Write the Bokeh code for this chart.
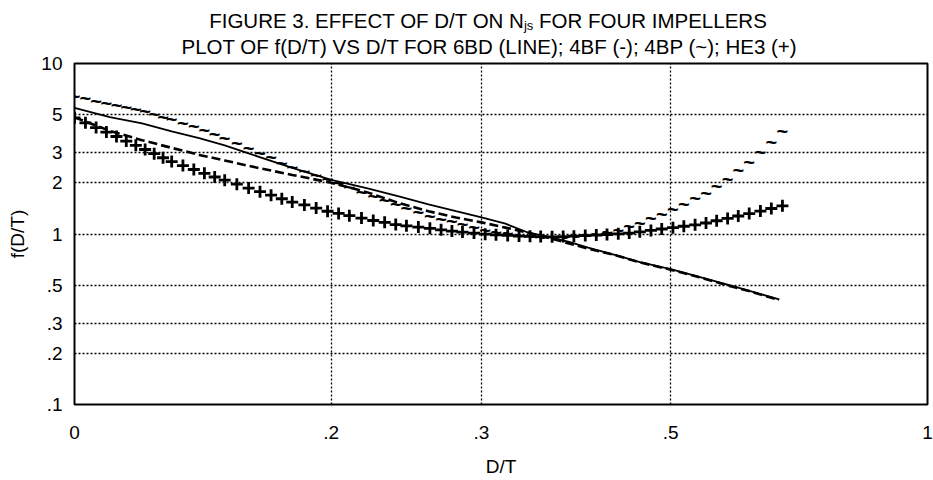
from bokeh.plotting import figure
from bokeh.models import FixedTicker, Div
from bokeh.layouts import column
from bokeh.core.properties import value
from bokeh.embed import file_html
from bokeh.resources import INLINE

# ---- data ----
# D/T values for the two drawn lines (6BD solid, 4BF dashed)
dt_line = [0.10, 0.11, 0.12, 0.13, 0.14, 0.15, 0.16, 0.18, 0.20, 0.22, 0.24, 0.26, 0.28,
           0.30, 0.32, 0.34, 0.36, 0.38, 0.40, 0.43, 0.46, 0.50, 0.54, 0.58, 0.62, 0.67]
f_6bd = [5.49, 4.85, 4.46, 4.00, 3.65, 3.31, 2.97, 2.44, 2.08, 1.86, 1.66, 1.49, 1.36,
         1.25, 1.15, 1.02, 0.963, 0.898, 0.832, 0.754, 0.683, 0.623, 0.560, 0.508, 0.462, 0.413]
f_4bf = [4.83, 4.03, 3.55, 3.20, 2.91, 2.70, 2.51, 2.22, 2.00, 1.76, 1.52, 1.36, 1.25,
         1.17, 1.09, 1.02, 0.948, 0.880, 0.821, 0.752, 0.682, 0.617, 0.558, 0.503, 0.460, 0.410]

# D/T values for the two marker series (4BP "~", HE3 "+")
dt_mark = [0.100, 0.103, 0.106, 0.109, 0.112, 0.115, 0.118, 0.121, 0.124, 0.127, 0.130,
           0.134, 0.138, 0.142, 0.146, 0.150, 0.155, 0.160, 0.165, 0.170, 0.175, 0.180,
           0.186, 0.192, 0.198, 0.204, 0.210, 0.217, 0.224, 0.231, 0.238, 0.245, 0.253,
           0.261, 0.269, 0.277, 0.285, 0.294, 0.303, 0.312, 0.322, 0.332, 0.342, 0.352,
           0.363, 0.374, 0.385, 0.397, 0.409, 0.421, 0.434, 0.447, 0.460, 0.474, 0.488,
           0.503, 0.518, 0.534, 0.550, 0.566, 0.583, 0.600, 0.618, 0.637, 0.656, 0.676]
f_4bp = [6.41, 6.24, 6.05, 5.85, 5.71, 5.57, 5.43, 5.24, 5.05, 4.87, 4.70,
         4.48, 4.29, 4.10, 3.86, 3.66, 3.42, 3.19, 2.98, 2.82, 2.62, 2.46,
         2.33, 2.21, 2.09, 1.98, 1.88, 1.77, 1.67, 1.575, 1.493, 1.420, 1.346,
         1.282, 1.228, 1.185, 1.141, 1.096, 1.058, 1.033, 1.008, 0.989, 0.975, 0.966,
         0.963, 0.966, 0.972, 0.987, 1.005, 1.024, 1.058, 1.110, 1.166, 1.236, 1.310,
         1.401, 1.501, 1.619, 1.751, 1.916, 2.112, 2.362, 2.659, 3.019, 3.459, 3.992]
f_he3 = [4.80, 4.49, 4.21, 3.96, 3.73, 3.51, 3.31, 3.13, 2.96, 2.80, 2.66,
         2.52, 2.39, 2.27, 2.16, 2.07, 1.96, 1.86, 1.77, 1.69, 1.61, 1.54,
         1.48, 1.42, 1.36, 1.32, 1.28, 1.24, 1.20, 1.17, 1.135, 1.117, 1.098,
         1.079, 1.058, 1.040, 1.027, 1.012, 0.997, 0.989, 0.981, 0.973, 0.969, 0.966,
         0.963, 0.966, 0.971, 0.979, 0.985, 0.993, 1.003, 1.012, 1.030, 1.050, 1.070,
         1.089, 1.110, 1.132, 1.160, 1.196, 1.234, 1.275, 1.318, 1.363, 1.411, 1.463]

x_ticks = [0.1, 0.2, 0.3, 0.5, 1.0]
x_tick_labels = ["0", ".2", ".3", ".5", "1"]
y_ticks = [0.1, 0.2, 0.3, 0.5, 1.0, 2.0, 3.0, 5.0, 10.0]
y_tick_labels = [".1", ".2", ".3", ".5", "1", "2", "3", "5", "10"]
x_grid = [0.2, 0.3, 0.5]
y_grid = [0.2, 0.3, 0.5, 1.0, 2.0, 3.0, 5.0]

title_1a = "FIGURE 3. EFFECT OF D/T ON N"
title_1b = "js"
title_1c = " FOR FOUR IMPELLERS"
title_2 = "PLOT OF f(D/T) VS D/T FOR 6BD (LINE); 4BF (-); 4BP (~); HE3 (+)"
x_label = "D/T"
y_label = "f(D/T)"

FONT = "Liberation Sans"

# ---- first title line (HTML, so the subscript is real text) ----
line_css = ("position:absolute;left:488px;transform:translateX(-50%);white-space:nowrap;"
            "font-family:'Liberation Sans',Arial,sans-serif;font-size:20.5px;"
            "line-height:20.5px;color:#000;")
title_html = (
    '<div style="position:relative;width:933px;height:31px;overflow:visible;">'
    f'<div style="{line_css}top:10.6px;">{title_1a}'
    f'<span style="font-size:13px;position:relative;top:2.5px;">{title_1b}</span>'
    f'{title_1c}</div>'
    '</div>'
)
title_div = Div(text=title_html, width=933, height=31, margin=0,
                styles={"overflow": "visible", "z-index": "2"})

# ---- plot ----
p = figure(width=933, height=449, x_axis_type="log", y_axis_type="log",
           x_range=(0.1, 1.0), y_range=(0.1, 10.0),
           output_backend="svg", toolbar_location=None,
           min_border_left=74, min_border_right=6, min_border_top=32, min_border_bottom=76)
p.title.text = title_2
p.title.align = "left"
p.title.vertical_align = "top"
p.title.offset = 107
p.title.standoff = 7
p.title.text_font = FONT
p.title.text_font_size = "20.5px"
p.title.text_font_style = "normal"
p.title.text_color = "black"
p.background_fill_color = "white"
p.border_fill_color = "white"
p.border_fill_alpha = 0.0
p.outline_line_color = "black"
p.outline_line_width = 2

# axes
p.xaxis.ticker = FixedTicker(ticks=x_ticks)
p.xaxis.major_label_overrides = dict(zip(x_ticks, x_tick_labels))
p.yaxis.ticker = FixedTicker(ticks=y_ticks)
p.yaxis.major_label_overrides = dict(zip(y_ticks, y_tick_labels))
for ax in (p.xaxis, p.yaxis):
    ax.axis_line_color = None
    ax.major_tick_line_color = None
    ax.minor_tick_line_color = None
    ax.major_tick_out = 0
    ax.major_tick_in = 0
    ax.major_label_text_font = FONT
    ax.major_label_text_font_size = "19px"
    ax.major_label_text_color = "black"
    ax.axis_label_text_font = FONT
    ax.axis_label_text_font_size = "19px"
    ax.axis_label_text_font_style = "normal"
    ax.axis_label_text_color = "black"
p.xaxis.major_label_standoff = 21
p.yaxis.major_label_standoff = 12
p.xaxis.axis_label = x_label
p.xaxis.axis_label_standoff = 14
p.yaxis.axis_label = y_label
p.yaxis.axis_label_standoff = 10

# grids
p.xgrid.ticker = FixedTicker(ticks=x_grid)
p.ygrid.ticker = FixedTicker(ticks=y_grid)
for g in (p.xgrid, p.ygrid):
    g.grid_line_color = "black"
    g.grid_line_dash = "2 2"
    g.grid_line_width = 1.3
    g.grid_line_alpha = 1.0

# series
p.line(dt_line, f_6bd, line_color="black", line_width=1.8)
p.line(dt_line, f_4bf, line_color="black", line_width=2.6, line_dash="9 4")
p.text(x=dt_mark, y=f_4bp, text=value("~"), text_font=value(FONT),
       text_font_size=value("20px"), text_font_style="bold",
       text_align="center", text_baseline="middle", text_color="black")
p.scatter(dt_mark, f_he3, marker="cross", size=12, line_color="black", line_width=2.8)

layout = column(title_div, p, spacing=0)
open("out.html", "w").write(file_html(layout, INLINE))
